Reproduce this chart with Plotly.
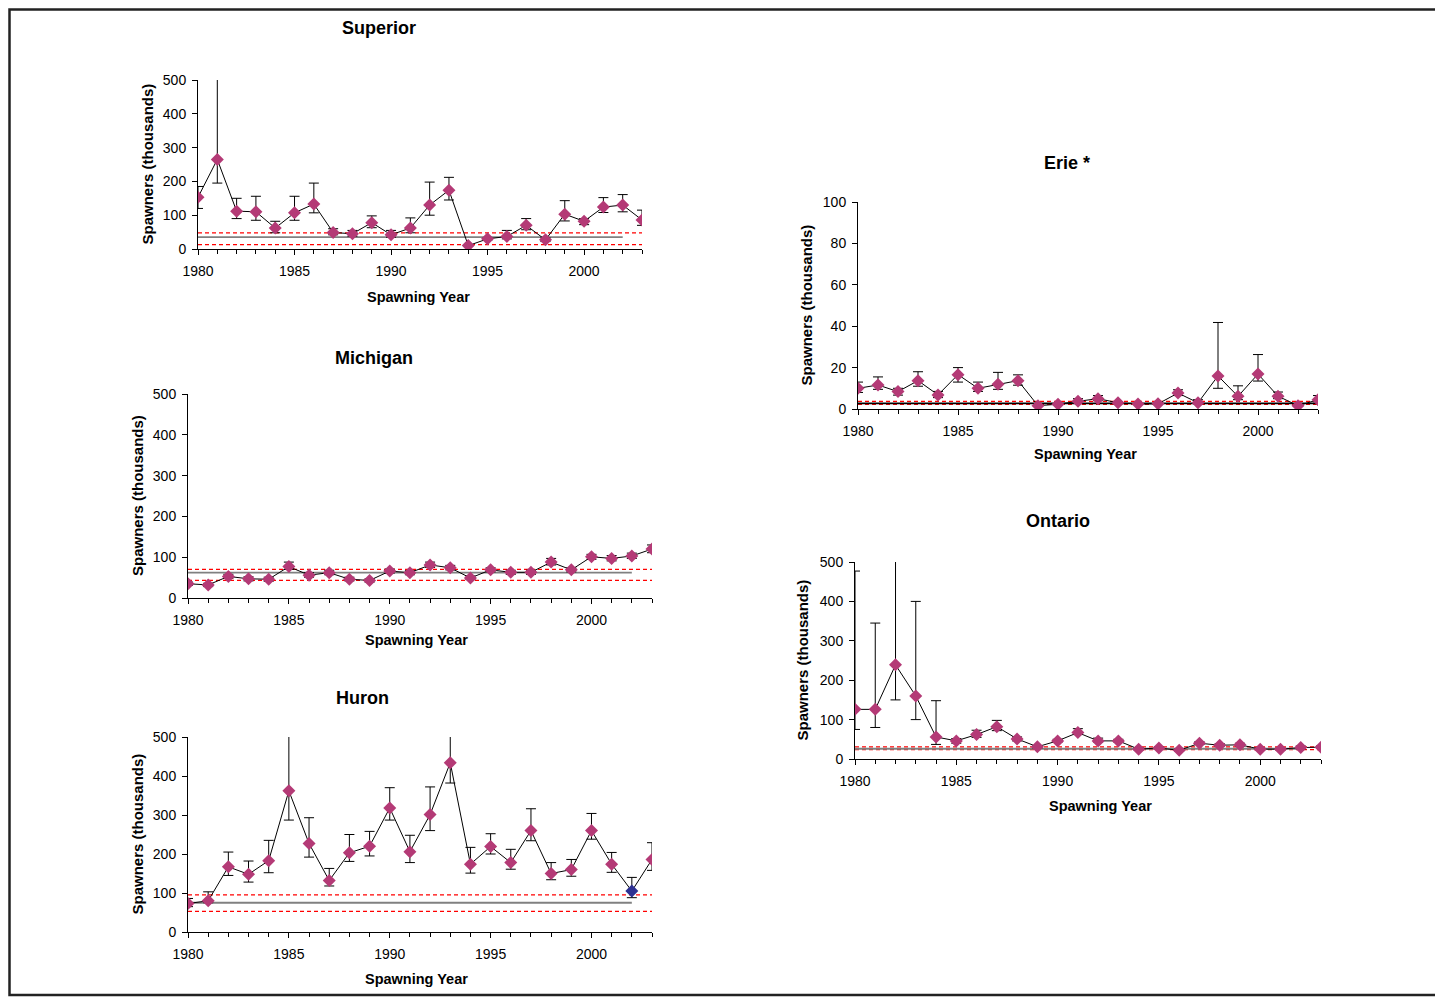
import plotly.graph_objects as go

# data (thousands of spawners)
years = list(range(1980, 2004))

superior = [153, 265, 112, 110, 62, 107, 133, 49, 45, 78, 42, 62, 130, 174, 10, 30, 37, 70, 27, 103, 82, 124, 130, 86]
superior_lo = [120, 195, 90, 85, 48, 85, 107, 42, 38, 63, 35, 48, 100, 145, 10, 27, 30, 57, 22, 83, 72, 108, 110, 70]
superior_hi = [185, 600, 150, 156, 82, 156, 195, 60, 55, 98, 55, 92, 198, 212, 10, 33, 55, 90, 33, 143, 90, 152, 161, 115]

michigan = [35, 32, 53, 47, 46, 77, 56, 62, 46, 43, 66, 62, 81, 74, 49, 69, 63, 63, 88, 69, 101, 97, 103, 120]
michigan_lo = [31, 28, 48, 42, 41, 70, 51, 57, 42, 39, 61, 57, 75, 69, 45, 64, 58, 58, 81, 64, 95, 91, 97, 111]
michigan_hi = [39, 36, 58, 52, 51, 88, 62, 68, 51, 47, 71, 67, 88, 80, 54, 74, 68, 68, 97, 74, 107, 104, 110, 130]

huron = [73, 80, 167, 148, 183, 362, 227, 132, 203, 220, 318, 206, 301, 434, 174, 219, 178, 260, 150, 160, 260, 174, 105, 186]
huron_lo = [65, 75, 145, 128, 152, 287, 192, 118, 181, 195, 287, 178, 260, 382, 151, 200, 161, 234, 134, 143, 238, 153, 88, 158]
huron_hi = [86, 103, 205, 182, 235, 600, 293, 163, 250, 258, 370, 248, 372, 600, 217, 252, 212, 316, 178, 186, 304, 204, 140, 229]

erie = [10, 11.6, 8.4, 13.7, 6.8, 16.6, 10, 12, 13.7, 1.6, 2.3, 3.7, 5, 3, 2.4, 2.5, 7.7, 3, 16, 6.1, 16.9, 6.2, 1.6, 4.5]
erie_lo = [8, 9.5, 6.7, 11, 5.5, 13, 8.5, 9.5, 11.5, 1.4, 2.1, 3, 4, 2.6, 2.2, 2.3, 6.5, 2.5, 10, 4.5, 13.5, 5, 1.4, 3.5]
erie_hi = [13, 15.5, 10, 18, 8.5, 20, 13, 17.7, 16.5, 1.8, 2.5, 5, 6.5, 3.4, 2.6, 2.7, 9.3, 4.5, 41.8, 11.2, 26.3, 8.2, 1.8, 6.5]

ontario = [126, 126, 239, 160, 56, 46, 62, 82, 51, 31, 46, 67, 46, 46, 25, 28, 22, 40, 35, 36, 25, 25, 29, 30]
ontario_lo = [75, 80, 150, 100, 37, 40, 55, 72, 46, 28, 43, 62, 43, 43, 23, 26, 20, 37, 32, 33, 23, 23, 26, 28]
ontario_hi = [477, 345, 600, 400, 148, 52, 73, 98, 56, 34, 50, 77, 53, 50, 28, 31, 25, 44, 39, 40, 28, 28, 33, 33]

# reference levels: mean (solid) and its band (red dashed)
ref_mean = {"Superior": 35, "Michigan": 62, "Huron": 75, "Erie *": 2.7, "Ontario": 26}
ref_low = {"Superior": 13, "Michigan": 43, "Huron": 53, "Erie *": 2.2, "Ontario": 24}
ref_high = {"Superior": 48, "Michigan": 70, "Huron": 95, "Erie *": 3.7, "Ontario": 31}

# page has an 8px body margin, so work in page pixels and shift
OFF = 8
FW, FH = 1443 - OFF, 999 - OFF
PINK = "#B43A76"
FONT = "Arial, Liberation Sans, sans-serif"


def px(x):
    return (x - OFF) / FW


def py(y):
    return 1 - (y - OFF) / FH


# name, values, lo, hi, ymax, page box (x1980, x2003, y0, ytop), title pos, ytitle x, xtitle pos
panels = [
    ("Superior", superior, superior_lo, superior_hi, 500, (198, 642, 249, 80), (379, 28), 147, (418, 297)),
    ("Michigan", michigan, michigan_lo, michigan_hi, 500, (188, 652, 598, 394), (374, 358), 137, (416, 640)),
    ("Huron", huron, huron_lo, huron_hi, 500, (188, 652, 932, 737), (362, 698), 137, (416, 979)),
    ("Erie *", erie, erie_lo, erie_hi, 100, (858, 1318, 409, 202), (1067, 163), 806, (1085, 454)),
    ("Ontario", ontario, ontario_lo, ontario_hi, 500, (855, 1321, 759, 562), (1058, 521), 802, (1100, 806)),
]

fig = go.Figure()
annotations = []


def label(text, x, y, size, angle=0):
    return dict(text=text, x=px(x), y=py(y), xref="paper", yref="paper", showarrow=False,
                xanchor="center", yanchor="middle", textangle=angle,
                font=dict(family=FONT, size=size, color="black"))


for i, (name, vals, lo, hi, ymax, box, tpos, ytx, xtpos) in enumerate(panels):
    n = "" if i == 0 else str(i + 1)
    xa, ya = "x" + n, "y" + n
    x0, x1, y0, y1 = box

    # reference lines
    for level in (ref_high[name], ref_low[name]):
        fig.add_trace(go.Scatter(x=[1980, 2003], y=[level] * 2, mode="lines", xaxis=xa, yaxis=ya,
                                 line=dict(color="#FF0000", width=1.3, dash="4px,3px"), showlegend=False))
    end = 2003 if name == "Erie *" else 2002
    fig.add_trace(go.Scatter(x=[1980, end], y=[ref_mean[name]] * 2, mode="lines", xaxis=xa, yaxis=ya,
                             line=dict(color="#808080" if name != "Erie *" else "#000000", width=1.8),
                             showlegend=False))

    colors = [PINK] * len(vals)
    if name == "Huron":
        colors[years.index(2002)] = "#2E3192"
    fig.add_trace(go.Scatter(
        x=years, y=vals, mode="lines+markers", xaxis=xa, yaxis=ya, showlegend=False,
        line=dict(color="black", width=1),
        marker=dict(symbol="diamond", size=10, color=colors),
        error_y=dict(type="data", symmetric=False,
                     array=[h - v for h, v in zip(hi, vals)],
                     arrayminus=[v - l for v, l in zip(vals, lo)],
                     color="black", thickness=1, width=5),
    ))

    fig.layout["xaxis" + n] = dict(
        domain=[px(x0), px(x1)], anchor=ya, range=[1980, 2003],
        tickvals=[1980, 1985, 1990, 1995, 2000], ticks="outside", ticklen=5, tickcolor="black",
        minor=dict(dtick=1, tick0=1980, ticks="outside", ticklen=4, tickcolor="black"),
        showline=True, linecolor="black", linewidth=1, showgrid=False, zeroline=False,
        ticklabelstandoff=4,
        tickfont=dict(family=FONT, size=14, color="black"),
    )
    fig.layout["yaxis" + n] = dict(
        domain=[py(y0), py(y1)], anchor=xa, range=[0, ymax],
        dtick=ymax / 5, ticks="outside", ticklen=5, tickcolor="black",
        showline=True, linecolor="black", linewidth=1, showgrid=False, zeroline=False,
        ticklabelstandoff=3,
        tickfont=dict(family=FONT, size=14, color="black"),
    )

    annotations.append(label("<b>" + name + "</b>", tpos[0], tpos[1], 18))
    annotations.append(label("<b>Spawning Year</b>", xtpos[0], xtpos[1], 14.5))
    annotations.append(label("<b>Spawners (thousands)</b>", ytx, (y0 + y1) / 2, 15, -90))

fig.update_layout(
    width=FW, height=FH, margin=dict(l=0, r=0, t=0, b=0, autoexpand=False),
    paper_bgcolor="white", plot_bgcolor="white",
    annotations=annotations,
    shapes=[dict(type="rect", xref="paper", yref="paper",
                 x0=px(9.5), x1=px(1437), y0=py(995), y1=py(9.5),
                 line=dict(color="#222222", width=2.5))],
)

fig.write_html("out.html")
